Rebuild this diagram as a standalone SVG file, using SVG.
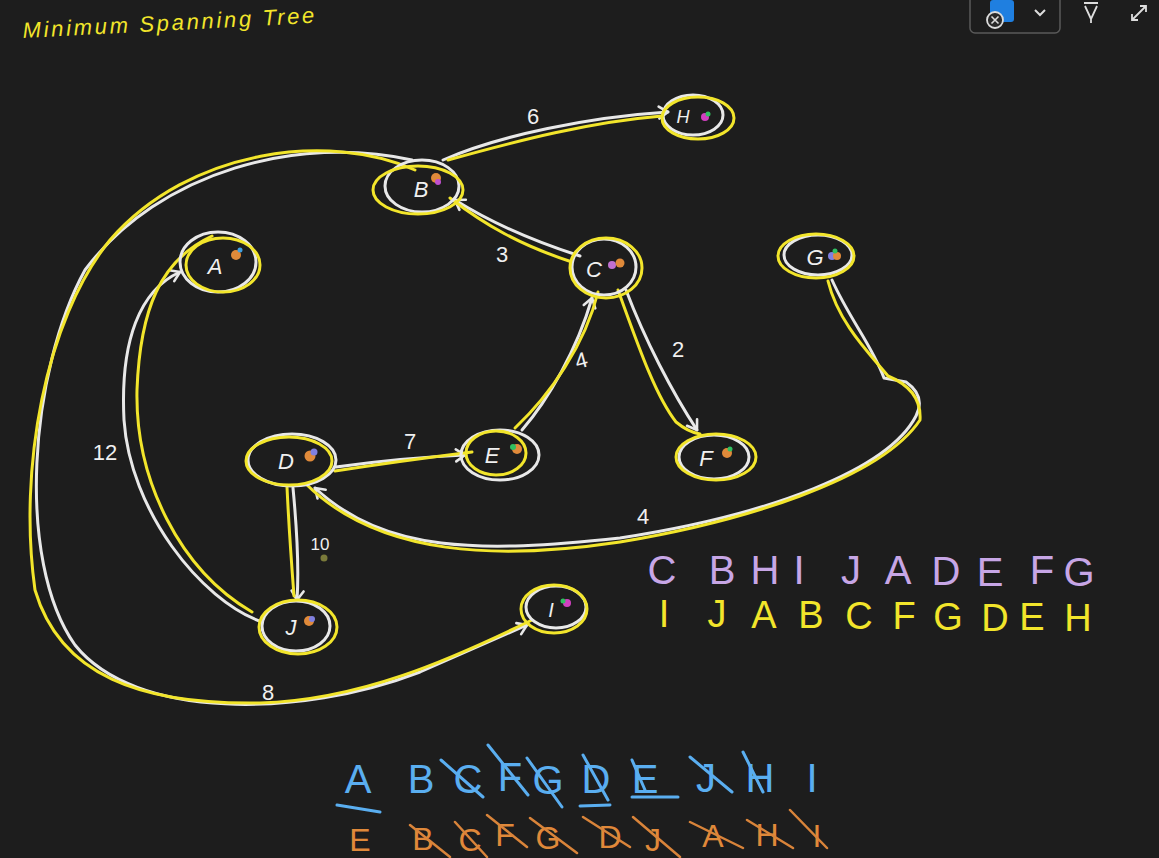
<svg xmlns="http://www.w3.org/2000/svg" width="1159" height="858" viewBox="0 0 1159 858">
<defs>
<style>
.w{fill:none;stroke:#e8e8e8;stroke-width:3;stroke-linecap:round;stroke-linejoin:round}
.y{fill:none;stroke:#f2e52b;stroke-width:3;stroke-linecap:round;stroke-linejoin:round}
.nt{font-family:"Liberation Sans",sans-serif;font-size:22px;fill:#f0f0f0;text-anchor:middle;font-style:italic}
.lbl{font-family:"Liberation Sans",sans-serif;font-size:22px;fill:#f0f0f0;text-anchor:middle}
.row{font-family:"Liberation Sans",sans-serif;text-anchor:middle}
.pu{fill:#c7a6e6;font-size:40px}
.ye{fill:#f2e52b;font-size:38px}
.bl{fill:#5aaef0;font-size:40px}
.or{fill:#e0893a;font-size:32px}
.sb{stroke:#5aaef0;stroke-width:3;stroke-linecap:round}
.so{stroke:#d9843a;stroke-width:2.5;stroke-linecap:round}
</style>
<marker id="ah" markerWidth="16" markerHeight="16" refX="12" refY="8" orient="auto" markerUnits="userSpaceOnUse">
<path d="M3,2 L12,8 L3,14" fill="none" stroke="#e8e8e8" stroke-width="2.6" stroke-linecap="round" stroke-linejoin="round"/>
</marker>
</defs>
<rect width="1159" height="858" fill="#1d1d1d"/>

<g id="toolbar">
<rect x="970" y="-6" width="90" height="39" rx="5" fill="none" stroke="#5a5a5a" stroke-width="1.5"/>
<rect x="990" y="0" width="24" height="22" rx="3" fill="#1f7fe0"/>
<circle cx="995" cy="20" r="8" fill="#2a2a2a" stroke="#ddd" stroke-width="1.8"/>
<path d="M991.5,16.5 L998.5,23.5 M998.5,16.5 L991.5,23.5" stroke="#ddd" stroke-width="1.6"/>
<path d="M1035,10 L1040,15 L1045,10" fill="none" stroke="#ddd" stroke-width="2"/>
<path d="M1084,3 L1098,3 M1085,6 L1091,19 L1097,6 M1091,19 L1091,23" fill="none" stroke="#ddd" stroke-width="1.8"/>
<path d="M1132,20 L1146,6 M1140,6 L1146,6 L1146,12 M1132,14 L1132,20 L1138,20" fill="none" stroke="#ddd" stroke-width="1.8"/>
</g>

<text x="23" y="38" transform="rotate(-3 23 38)" font-family="Liberation Sans, sans-serif" font-size="22" font-style="italic" fill="#f2e52b" textLength="292">Minimum  Spanning Tree</text>

<g id="connectors">
<!-- B -> H (6) -->
<path class="w" d="M443,160 C500,135 590,117 668,112" marker-end="url(#ah)"/>
<path class="y" d="M448,160 C520,140 590,122 662,116"/>
<!-- C -> B (3) -->
<path class="w" d="M580,256 C530,240 490,222 455,200" marker-end="url(#ah)"/>
<path class="y" d="M572,262 C520,245 485,225 450,198"/>
<!-- C -> F (2) -->
<path class="w" d="M626,290 C645,340 672,392 697,430" marker-end="url(#ah)"/>
<path class="y" d="M618,290 C638,345 655,395 676,422 Q688,432 700,434"/>
<!-- E -> C (4) -->
<path class="w" d="M522,430 C548,400 577,350 592,298" marker-end="url(#ah)"/>
<path class="y" d="M515,428 C550,395 585,345 598,292"/>
<!-- D -> E (7) -->
<path class="w" d="M336,467 Q400,458 465,455" marker-end="url(#ah)"/>
<path class="y" d="M335,471 Q400,461 472,452"/>
<!-- D -> J (10) -->
<path class="w" d="M293,488 C297,530 299,570 297,600" marker-end="url(#ah)"/>
<path class="y" d="M287,487 C289,530 292,570 294,596"/>
<!-- G -> D (4) -->
<path class="w" d="M832,280 C850,320 872,345 884,378 L906,382 Q926,396 916,416 C888,470 770,515 620,538 C480,553 385,553 315,488" marker-end="url(#ah)"/>
<path class="y" d="M828,281 C838,322 868,352 888,376 Q922,390 920,420 C880,480 740,522 620,542 C500,560 380,557 306,484"/>
<!-- J -> A (12) -->
<path class="w" d="M262,622 C200,600 130,510 124,420 C120,340 140,290 180,272" marker-end="url(#ah)"/>
<path class="y" d="M252,612 C180,570 135,480 137,390 C140,310 160,260 212,236"/>
<!-- B -> I (8) -->
<path class="w" d="M412,160 C300,135 160,170 85,270 C30,370 15,560 75,645 C135,720 300,718 420,672 L527,625" marker-end="url(#ah)"/>
<path class="y" d="M415,170 C330,132 190,148 110,240 C45,320 18,470 35,590 C60,675 140,705 260,703 C360,700 450,660 532,620"/>
</g>

<g id="edge-labels">
<text class="lbl" x="533" y="124">6</text>
<text class="lbl" x="502" y="262">3</text>
<text class="lbl" x="678" y="357">2</text>
<text class="lbl" x="581" y="368" transform="rotate(-15 581 360)">4</text>
<text class="lbl" x="410" y="449">7</text>
<text class="lbl" x="320" y="550" style="font-size:17px">10</text>
<circle cx="324" cy="558" r="3.5" fill="#7a7a3a"/>
<text class="lbl" x="643" y="524">4</text>
<text class="lbl" x="105" y="460">12</text>
<text class="lbl" x="268" y="700">8</text>
</g>

<g id="node-H">
<ellipse class="w" cx="693" cy="115" rx="30" ry="20"/>
<ellipse class="y" cx="698" cy="118" rx="36" ry="21"/>
<text class="nt" x="683" y="123" style="font-size:18px">H</text>
<circle cx="705" cy="117" r="4" fill="#d040c0"/><circle cx="708" cy="114" r="2.5" fill="#30c060"/>
</g>
<g id="node-B">
<ellipse class="w" cx="422" cy="186" rx="37" ry="26"/>
<ellipse class="y" cx="418" cy="190" rx="45" ry="24"/>
<text class="nt" x="421" y="197">B</text>
<circle cx="436" cy="178" r="5" fill="#e08a3a"/><circle cx="438" cy="182" r="3" fill="#c050d0"/>
</g>
<g id="node-A">
<ellipse class="w" cx="218" cy="262" rx="38" ry="30"/>
<ellipse class="y" cx="223" cy="265" rx="37" ry="27"/>
<text class="nt" x="215" y="274">A</text>
<circle cx="236" cy="255" r="5" fill="#e08a3a"/><circle cx="240" cy="250" r="2.5" fill="#40a0e0"/>
</g>
<g id="node-C">
<ellipse class="w" cx="604" cy="267" rx="32" ry="28"/>
<ellipse class="y" cx="606" cy="268" rx="36" ry="30"/>
<text class="nt" x="594" y="277">C</text>
<circle cx="612" cy="265" r="4" fill="#c070d0"/><circle cx="620" cy="263" r="4.5" fill="#e08a3a"/>
</g>
<g id="node-G">
<ellipse class="w" cx="818" cy="255" rx="34" ry="20"/>
<ellipse class="y" cx="816" cy="256" rx="38" ry="22"/>
<text class="nt" x="815" y="265">G</text>
<circle cx="832" cy="256" r="4" fill="#8080e0"/><circle cx="837" cy="256" r="4" fill="#e08a3a"/><circle cx="835" cy="251" r="2.5" fill="#30c060"/>
</g>
<g id="node-D">
<ellipse class="w" cx="292" cy="460" rx="44" ry="26"/>
<ellipse class="y" cx="289" cy="461" rx="43" ry="24"/>
<text class="nt" x="286" y="469">D</text>
<circle cx="310" cy="456" r="5.5" fill="#e08a3a"/><circle cx="314" cy="452" r="3.5" fill="#8080e0"/>
</g>
<g id="node-E">
<ellipse class="w" cx="500" cy="455" rx="39" ry="25"/>
<ellipse class="y" cx="496" cy="453" rx="30" ry="22"/>
<text class="nt" x="492" y="463">E</text>
<circle cx="517" cy="449" r="5" fill="#e08a3a"/><circle cx="513" cy="447" r="3" fill="#30c060"/>
</g>
<g id="node-F">
<ellipse class="w" cx="714" cy="457" rx="35" ry="22"/>
<ellipse class="y" cx="716" cy="457" rx="40" ry="23"/>
<text class="nt" x="706" y="466">F</text>
<circle cx="727" cy="453" r="5" fill="#e08a3a"/><circle cx="730" cy="449" r="2.5" fill="#30c060"/>
</g>
<g id="node-J">
<ellipse class="w" cx="296" cy="626" rx="34" ry="25"/>
<ellipse class="y" cx="298" cy="627" rx="39" ry="27"/>
<text class="nt" x="291" y="635">J</text>
<circle cx="309" cy="621" r="5" fill="#e08a3a"/><circle cx="312" cy="619" r="3" fill="#8080e0"/>
</g>
<g id="node-I">
<ellipse class="w" cx="556" cy="607" rx="30" ry="21"/>
<ellipse class="y" cx="554" cy="609" rx="33" ry="24"/>
<text class="nt" x="551" y="617" style="font-size:20px">I</text>
<circle cx="567" cy="603" r="4" fill="#d040c0"/><circle cx="563" cy="601" r="2.5" fill="#30c060"/>
</g>

<g id="purple-row" class="row pu">
<text x="662" y="584">C</text><text x="722" y="584">B</text><text x="765" y="584">H</text><text x="799" y="584">I</text><text x="851" y="584">J</text><text x="898" y="584">A</text><text x="946" y="585">D</text><text x="990" y="586">E</text><text x="1042" y="584">F</text><text x="1079" y="586">G</text>
</g>
<g id="yellow-row" class="row ye">
<text x="664" y="627">I</text><text x="717" y="627">J</text><text x="764" y="628">A</text><text x="811" y="628">B</text><text x="859" y="629">C</text><text x="904" y="629">F</text><text x="948" y="630">G</text><text x="995" y="631">D</text><text x="1032" y="630">E</text><text x="1078" y="631">H</text>
</g>

<g id="blue-row">
<g class="row bl">
<text x="358" y="793">A</text><text x="421" y="793">B</text><text x="468" y="793">C</text><text x="510" y="791">F</text><text x="548" y="794">G</text><text x="596" y="793">D</text><text x="645" y="793">E</text><text x="706" y="792">J</text><text x="760" y="792">H</text><text x="812" y="792">I</text>
</g>
<path class="sb" d="M441,760 L483,797 M488,745 L528,795 M527,758 L562,807 M583,755 L608,800 M632,760 L645,790 M690,757 L732,792 M743,752 L763,792 M337,805 L380,812 M580,806 L610,805 M632,797 L678,797"/>
</g>
<g id="orange-row">
<g class="row or">
<text x="360" y="851">E</text><text x="423" y="850">B</text><text x="470" y="851">C</text><text x="505" y="846">F</text><text x="548" y="849">G</text><text x="610" y="848">D</text><text x="653" y="851">J</text><text x="713" y="847">A</text><text x="767" y="846">H</text><text x="817" y="847">I</text>
</g>
<path class="so" d="M410,825 L450,857 M455,822 L487,857 M487,815 L527,847 M530,818 L577,853 M583,817 L630,847 M633,817 L680,857 M690,822 L743,848 M747,820 L793,848 M790,810 L827,848"/>
</g>
</svg>
